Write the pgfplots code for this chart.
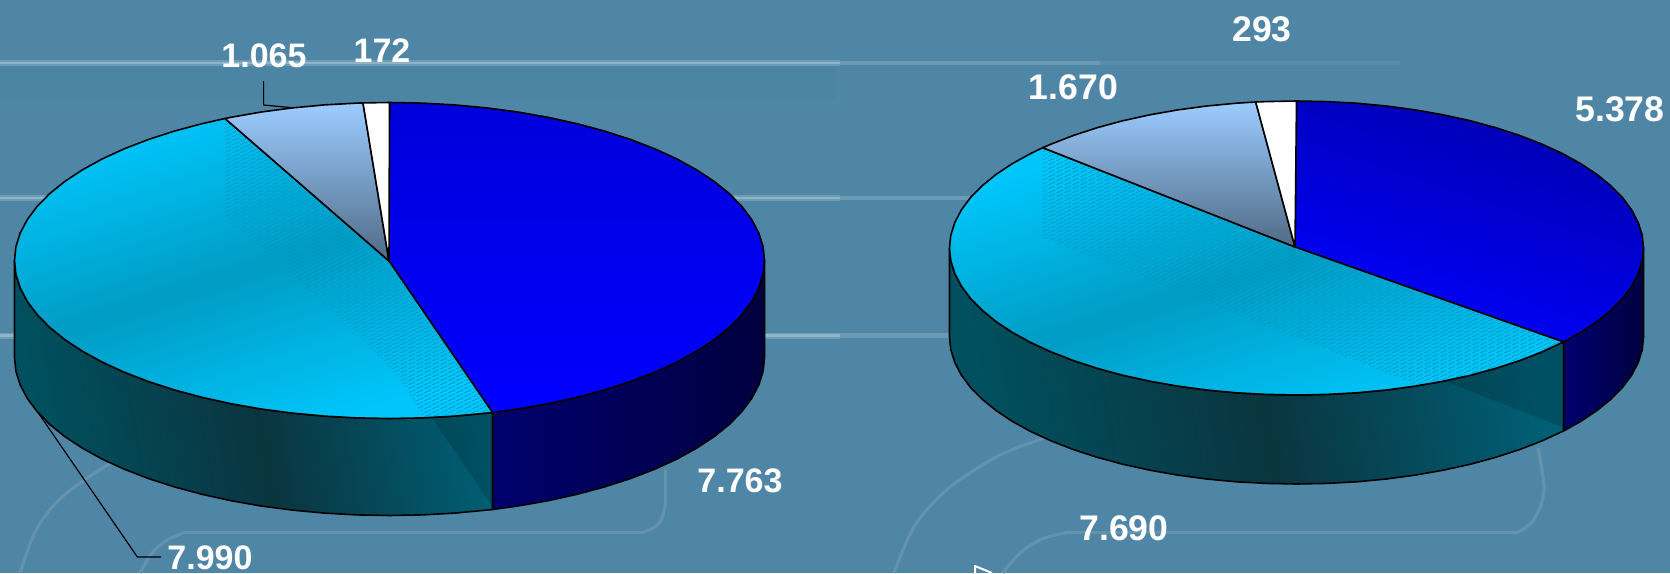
\documentclass[border=0pt]{standalone}
\usepackage{fontspec}
\setmainfont{Liberation Sans}
\usepackage{pgfplots}
\pgfplotsset{compat=1.18}
\usetikzlibrary{patterns}
\pgfdeclarepatternformonly{fine hatch}{\pgfpointorigin}{\pgfqpoint{4pt}{2pt}}{\pgfqpoint{4pt}{2pt}}{
  \pgfsetlinewidth{0.35pt}
  \pgfpathmoveto{\pgfqpoint{0pt}{0pt}}
  \pgfpathlineto{\pgfqpoint{4pt}{2pt}}
  \pgfusepath{stroke}
}
\definecolor{bg}{HTML}{5086A5}
\definecolor{lineA}{HTML}{8FB4C7}
\definecolor{lineU}{HTML}{6D9CB6}
\definecolor{lineB}{HTML}{6A9AB5}
\definecolor{lineC}{HTML}{588DAB}
\definecolor{arcline}{HTML}{6593AE}
\definecolor{cyanB}{HTML}{00C6FB}
\definecolor{cyanD}{HTML}{009CC4}
\definecolor{cyanH}{HTML}{0098C0}
\definecolor{sideL}{HTML}{00505F}
\definecolor{sideD}{HTML}{0A353F}
\definecolor{sideR}{HTML}{005F76}
\definecolor{lbT}{HTML}{9CCCFF}
\definecolor{lbB}{HTML}{4F6A85}
\begin{document}
\begin{tikzpicture}
\begin{axis}[
  width=835pt,height=286.5pt,scale only axis,
  xmin=0,xmax=1670,ymin=0,ymax=573,y dir=reverse,
  hide axis,clip=true,
  every axis plot/.append style={forget plot,line join=round},
]
% background
\addplot[fill=bg,draw=none] coordinates {(0,0)(1670,0)(1670,573)(0,573)} -- cycle;
\addplot[draw=none,fill=teal,fill opacity=0.05] coordinates {(0,68)(835,68)(835,100)(0,100)} -- cycle;
% background lines
\addplot[lineU,line width=3pt] coordinates {(0,63)(840,63)};
\addplot[lineA,line width=1.3pt] coordinates {(0,63)(840,63)};
\addplot[lineB,line width=2.2pt] coordinates {(840,63)(1100,63)};
\addplot[lineC,line width=2.2pt] coordinates {(1100,63)(1400,63)};
\addplot[lineU,line width=3pt] coordinates {(0,198)(840,198)};
\addplot[lineA,line width=1.3pt] coordinates {(0,198)(840,198)};
\addplot[lineB,line width=2.2pt] coordinates {(840,198)(970,198)};
\addplot[lineU,line width=3pt] coordinates {(0,335.5)(840,335.5)};
\addplot[lineA,line width=1.3pt] coordinates {(0,335.5)(840,335.5)};
\addplot[lineB,line width=2.2pt] coordinates {(840,335.5)(960,335.5)};
\addplot[arcline,line width=1.5pt] coordinates {(186,532)(644,532)};
\addplot[arcline,line width=1.5pt,smooth] coordinates {(140,573)(152,553)(167,540)(186,532)};
\addplot[arcline,line width=1.5pt,smooth] coordinates {(644,532)(655,527)(662,518)(665,505)};
\addplot[arcline,line width=1.5pt] coordinates {(665,505)(665,470)};
\addplot[arcline,line width=1.5pt,smooth] coordinates {(20,573)(36,530)(62,497)(106,466)(140,450)};
\addplot[arcline,line width=1.5pt] coordinates {(1069,532)(1519,532)};
\addplot[arcline,line width=1.5pt,smooth] coordinates {(1003,573)(1020,553)(1042,539)(1069,532)};
\addplot[arcline,line width=1.5pt,smooth] coordinates {(1519,532)(1532,522)(1541,505)(1544,485)(1538,448)};
\addplot[arcline,line width=1.5pt,smooth] coordinates {(894,573)(915,525)(950,487)(1000,455)(1045,438)};
% cursor
\addplot[white,line width=1pt] coordinates {(975,573)(975,566)(992,573)};
%
% LEFT PIE: 7763, 7990, 1065, 172
\addplot[draw=black,line width=.8pt,left color=blue!43!black,right color=blue!25!black] coordinates {
(764.5,260.5)(763.1,274.3)(758.8,287.9)(751.7,301.4)(741.9,314.5)(729.4,327.3)(714.3,339.5)(696.7,351.1)(676.8,362.1)(654.7,372.2)(630.6,381.5)(604.6,389.9)(577,397.3)(548,403.7)(517.8,409)(492.5,412.5)
(492.5,509.5)(517.8,506)(548,500.7)(577,494.3)(604.6,486.9)(630.6,478.5)(654.7,469.2)(676.8,459.1)(696.7,448.1)(714.3,436.5)(729.4,424.3)(741.9,411.5)(751.7,398.4)(758.8,384.9)(763.1,371.3)(764.5,357.5)} -- cycle;
\addplot[draw=black,line width=.8pt,left color=sideL,right color=sideR,middle color=sideD,shading angle=100] coordinates {
(492.5,412.5)(486.6,413.1)(454.6,416.1)(422.2,417.9)(389.5,418.5)(356.8,417.9)(324.4,416.1)(292.4,413.1)(261.2,409)(231,403.7)(202,397.3)(174.4,389.9)(148.4,381.5)(124.3,372.2)(102.2,362.1)(82.3,351.1)(64.7,339.5)(49.6,327.3)(37.1,314.5)(27.3,301.4)(20.2,287.9)(15.9,274.3)(14.5,260.5)
(14.5,357.5)(15.9,371.3)(20.2,384.9)(27.3,398.4)(37.1,411.5)(49.6,424.3)(64.7,436.5)(82.3,448.1)(102.2,459.1)(124.3,469.2)(148.4,478.5)(174.4,486.9)(202,494.3)(231,500.7)(261.2,506)(292.4,510.1)(324.4,513.1)(356.8,514.9)(389.5,515.5)(422.2,514.9)(454.6,513.1)(486.6,510.1)(492.5,509.5)} -- cycle;
\addplot[draw=none,fill=black,fill opacity=0.15] coordinates {(432,418)(491.5,413.5)(491.5,505)} -- cycle;
% blue top
\addplot[draw=black,line width=.8pt,top color=blue!86!black,bottom color=blue] coordinates {
(389,261)(389.5,102.5)(422.2,103.1)(454.6,104.9)(486.6,107.9)(517.8,112)(548,117.3)(577,123.7)(604.6,131.1)(630.6,139.5)(654.7,148.8)(676.8,158.9)(696.7,169.9)(714.3,181.5)(729.4,193.7)(741.9,206.5)(751.7,219.6)(758.8,233.1)(763.1,246.7)(764.5,260.5)(763.1,274.3)(758.8,287.9)(751.7,301.4)(741.9,314.5)(729.4,327.3)(714.3,339.5)(696.7,351.1)(676.8,362.1)(654.7,372.2)(630.6,381.5)(604.6,389.9)(577,397.3)(548,403.7)(517.8,409)(492.5,412.5)} -- cycle;
% cyan top
\addplot[draw=black,line width=.8pt,top color=cyanB,bottom color=cyanB,middle color=cyanD,shading angle=18] coordinates {
(389,261)(492.5,412.5)(486.6,413.1)(454.6,416.1)(422.2,417.9)(389.5,418.5)(356.8,417.9)(324.4,416.1)(292.4,413.1)(261.2,409)(231,403.7)(202,397.3)(174.4,389.9)(148.4,381.5)(124.3,372.2)(102.2,362.1)(82.3,351.1)(64.7,339.5)(49.6,327.3)(37.1,314.5)(27.3,301.4)(20.2,287.9)(15.9,274.3)(14.5,260.5)(15.9,246.7)(20.2,233.1)(27.3,219.6)(37.1,206.5)(49.6,193.7)(64.7,181.5)(82.3,169.9)(102.2,158.9)(124.3,148.8)(148.4,139.5)(174.4,131.1)(202,123.7)(225,118.5)} -- cycle;
% hatched band
\addplot[draw=none,pattern=fine hatch,pattern color=cyanH] coordinates {
(225,119.5)(388,261)(491,411.5)(423,417)(403,383)(380,357)(347,323)(307,290)(263,250)(226,216)} -- cycle;
% light blue top
\addplot[draw=black,line width=.8pt,top color=lbT,bottom color=lbB] coordinates {
(389,261)(225,118.5)(231,117.3)(261.2,112)(292.4,107.9)(324.4,104.9)(356.8,103.1)(363,102.9)} -- cycle;
% white top
\addplot[draw=black,line width=.8pt,fill=white] coordinates {(389,261)(363,102.9)(389.5,102.5)} -- cycle;
% leaders
\addplot[black,line width=.6pt] coordinates {(263.6,81)(263.6,105)(290,107.5)};
\addplot[black,line width=.6pt] coordinates {(37,411)(137.4,557)(161,557)};
%
% RIGHT PIE: 5378, 7690, 1670, 293
\addplot[draw=black,line width=.8pt,left color=blue!43!black,right color=blue!25!black] coordinates {
(1643.5,248)(1642.2,260.8)(1638.2,273.5)(1631.7,286)(1622.6,298.3)(1611,310.1)(1597,321.5)(1580.8,332.3)(1563.5,342)
(1563.5,431)(1580.8,421.3)(1597,410.5)(1611,399.1)(1622.6,387.3)(1631.7,375)(1638.2,362.5)(1642.2,349.8)(1643.5,337)} -- cycle;
\addplot[draw=black,line width=.8pt,left color=sideL,right color=sideR,middle color=sideD,shading angle=100] coordinates {
(1563.5,342)(1562.3,342.5)(1541.9,351.9)(1519.5,360.6)(1495.5,368.4)(1470,375.3)(1443.1,381.2)(1415.2,386.1)(1386.3,390)(1356.7,392.8)(1326.8,394.4)(1296.5,395)(1266.2,394.4)(1236.3,392.8)(1206.7,390)(1177.8,386.1)(1149.9,381.2)(1123,375.3)(1097.5,368.4)(1073.5,360.6)(1051.1,351.9)(1030.7,342.5)(1012.2,332.3)(996,321.5)(982,310.1)(970.4,298.3)(961.3,286)(954.8,273.5)(950.8,260.8)(949.5,248)
(949.5,337)(950.8,349.8)(954.8,362.5)(961.3,375)(970.4,387.3)(982,399.1)(996,410.5)(1012.2,421.3)(1030.7,431.5)(1051.1,440.9)(1073.5,449.6)(1097.5,457.4)(1123,464.3)(1149.9,470.2)(1177.8,475.1)(1206.7,479)(1236.3,481.8)(1266.2,483.4)(1296.5,484)(1326.8,483.4)(1356.7,481.8)(1386.3,479)(1415.2,475.1)(1443.1,470.2)(1470,464.3)(1495.5,457.4)(1519.5,449.6)(1541.9,440.9)(1562.3,431.5)(1563.5,431)} -- cycle;
\addplot[draw=none,fill=black,fill opacity=0.15] coordinates {(1447,382)(1562,344)(1562,427)} -- cycle;
% blue top
\addplot[draw=black,line width=.8pt,top color=blue!68!black,bottom color=blue,shading angle=-18] coordinates {
(1295,247)(1296.5,101)(1326.8,101.6)(1356.7,103.2)(1386.3,106)(1415.2,109.9)(1443.1,114.8)(1470,120.7)(1495.5,127.6)(1519.5,135.4)(1541.9,144.1)(1562.3,153.5)(1580.8,163.7)(1597,174.5)(1611,185.9)(1622.6,197.7)(1631.7,210)(1638.2,222.5)(1642.2,235.2)(1643.5,248)(1642.2,260.8)(1638.2,273.5)(1631.7,286)(1622.6,298.3)(1611,310.1)(1597,321.5)(1580.8,332.3)(1563.5,342)} -- cycle;
% cyan top
\addplot[draw=black,line width=.8pt,top color=cyanB,bottom color=cyanB,middle color=cyanD,shading angle=18] coordinates {
(1295,247)(1563.5,342)(1562.3,342.5)(1541.9,351.9)(1519.5,360.6)(1495.5,368.4)(1470,375.3)(1443.1,381.2)(1415.2,386.1)(1386.3,390)(1356.7,392.8)(1326.8,394.4)(1296.5,395)(1266.2,394.4)(1236.3,392.8)(1206.7,390)(1177.8,386.1)(1149.9,381.2)(1123,375.3)(1097.5,368.4)(1073.5,360.6)(1051.1,351.9)(1030.7,342.5)(1012.2,332.3)(996,321.5)(982,310.1)(970.4,298.3)(961.3,286)(954.8,273.5)(950.8,260.8)(949.5,248)(950.8,235.2)(954.8,222.5)(961.3,210)(970.4,197.7)(982,185.9)(996,174.5)(1012.2,163.7)(1030.7,153.5)(1042.7,147.7)} -- cycle;
\addplot[draw=none,pattern=fine hatch,pattern color=cyanH] coordinates {
(1043,149)(1294,247.5)(1561,342.5)(1519.5,360)(1470,375)(1415,385)(1367,365)(1200,300)(1043,238)} -- cycle;
% light blue top
\addplot[draw=black,line width=.8pt,top color=lbT,bottom color=lbB] coordinates {
(1295,247)(1042.7,147.7)(1051.1,144.1)(1073.5,135.4)(1097.5,127.6)(1123,120.7)(1149.9,114.8)(1177.8,109.9)(1206.7,106)(1236.3,103.2)(1255.7,102)} -- cycle;
% white top
\addplot[draw=black,line width=.8pt,fill=white] coordinates {(1295,247)(1255.7,102)(1266.2,101.6)(1296.5,101)} -- cycle;
% labels
\node[white,inner sep=0pt,font=\fontsize{17}{17}\selectfont\bfseries] at (axis cs:264,56) {1.065};
\node[white,inner sep=0pt,font=\fontsize{17}{17}\selectfont\bfseries] at (axis cs:382,51) {172};
\node[white,inner sep=0pt,font=\fontsize{17}{17}\selectfont\bfseries] at (axis cs:740,481) {7.763};
\node[white,inner sep=0pt,font=\fontsize{17}{17}\selectfont\bfseries] at (axis cs:210,557.5) {7.990};
\node[white,inner sep=0pt,font=\fontsize{17.8}{17.8}\selectfont\bfseries] at (axis cs:1262,29) {293};
\node[white,inner sep=0pt,font=\fontsize{17.8}{17.8}\selectfont\bfseries] at (axis cs:1073.5,87) {1.670};
\node[white,inner sep=0pt,font=\fontsize{17.8}{17.8}\selectfont\bfseries] at (axis cs:1620,109) {5.378};
\node[white,inner sep=0pt,font=\fontsize{17.8}{17.8}\selectfont\bfseries] at (axis cs:1124,528) {7.690};
\end{axis}
\end{tikzpicture}
\end{document}
